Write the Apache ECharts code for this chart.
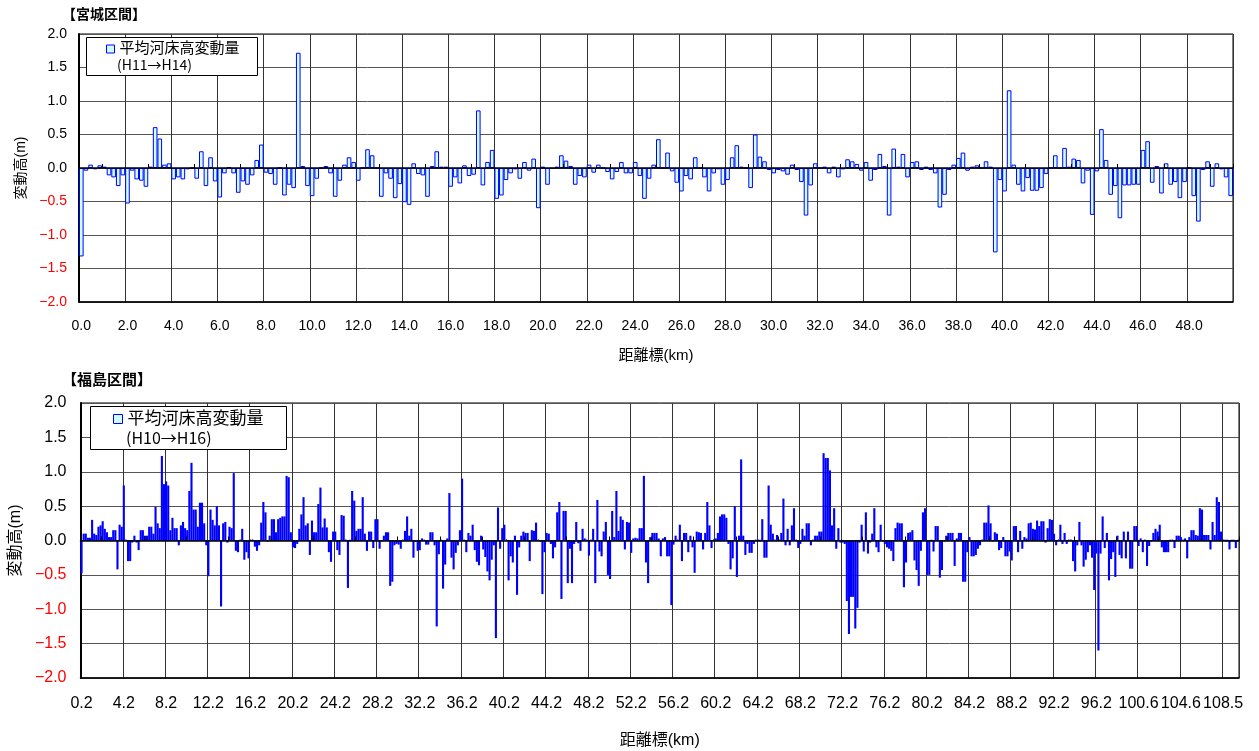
<!DOCTYPE html>
<html><head><meta charset="utf-8">
<script src="https://cdn.jsdelivr.net/npm/echarts/dist/echarts.min.js"></script>
<style>html,body{margin:0;padding:0;background:#fff}#c{width:1259px;height:751px}</style>
</head><body><div id="c"></div>
<script>
// ---------- data ----------
const seriesName = '平均河床高変動量';
const miyagiTitle = '【宮城区間】';
const fukushimaTitle = '【福島区間】';
const miyagiPeriod = '(H11→H14)';
const fukushimaPeriod = '(H10→H16)';
const yName = '変動高(m)';
const xName = '距離標(km)';

const miyagiTickLabels = ['0.0','2.0','4.0','6.0','8.0','10.0','12.0','14.0','16.0','18.0','20.0','22.0','24.0','26.0','28.0','30.0','32.0','34.0','36.0','38.0','40.0','42.0','44.0','46.0','48.0'];
const miyagiValues = [
-1.32,-0.04,0.05,-0.02,0.04,0.02,-0.11,-0.14,-0.27,-0.11,
-0.53,-0.04,-0.17,-0.19,-0.28,0.02,0.61,0.44,0.05,0.07,
-0.17,-0.14,-0.17,-0.02,0,-0.16,0.25,-0.27,0.16,-0.2,
-0.44,-0.08,0.01,-0.08,-0.37,-0.2,-0.25,-0.11,0.12,0.35,
-0.07,-0.09,-0.25,0,-0.41,-0.25,-0.3,1.72,0.03,-0.27,
-0.42,-0.16,0,0.03,-0.08,-0.43,-0.19,0.05,0.16,0.09,
-0.19,0,0.28,0.19,0,-0.43,-0.08,-0.16,-0.45,-0.24,
-0.51,-0.55,0.07,-0.09,-0.11,-0.43,0.03,0.25,0.02,0.02,
-0.28,-0.14,-0.23,0.04,-0.12,-0.1,0.86,-0.26,0.09,0.27,
-0.46,-0.41,-0.18,-0.08,-0.02,-0.16,0.09,-0.04,0.14,-0.6,
0.02,-0.25,-0.01,0.02,0.19,0.11,0.03,-0.25,-0.12,-0.14,
0.05,-0.07,0.05,0,-0.06,-0.17,-0.06,0.09,-0.08,-0.08,
0.09,-0.12,-0.46,-0.16,0.05,0.43,0,0.23,-0.05,-0.22,
-0.35,-0.12,-0.17,0.16,0,-0.14,-0.35,-0.08,-0.02,-0.25,
-0.18,0.16,0.34,0.02,0,-0.3,0.5,0.17,0.1,-0.03,
-0.08,-0.03,-0.05,-0.1,0.05,-0.03,-0.21,-0.71,-0.26,0.07,
0,0.02,-0.08,0.02,-0.14,-0.02,0.13,0.1,0.06,-0.04,
0.09,-0.19,-0.03,0.21,0.03,-0.71,0.29,0.02,0.21,-0.14,
0.09,0.1,-0.03,0.02,-0.03,-0.08,-0.59,-0.4,-0.03,0.05,
0.15,0.23,-0.04,0.02,0.04,0,0.1,0.02,-1.26,-0.18,
-0.35,1.16,0.05,-0.25,-0.35,-0.15,-0.34,-0.34,-0.3,-0.09,
0,0.19,0,0.3,0.02,0.14,0.12,-0.23,-0.04,-0.7,
-0.05,0.58,0.12,-0.4,-0.27,-0.75,-0.26,-0.26,-0.25,-0.25,
0.27,0.4,-0.22,0.03,-0.38,0.07,-0.25,-0.21,-0.45,-0.21,
0,-0.42,-0.8,-0.03,0.1,-0.28,0.07,-0.02,-0.14,-0.42
];

const fukushimaTickLabels = ['0.2','4.2','8.2','12.2','16.2','20.2','24.2','28.2','32.2','36.2','40.2','44.2','48.2','52.2','56.2','60.2','64.2','68.2','72.2','76.2','80.2','84.2','88.2','92.2','96.2','100.6','104.6','108.5'];
const fukushimaValues = [
-0.48,0.1,0.1,0.04,0.04,0.3,0.1,0.08,0.2,0.22,
0.28,0.17,0.12,0.05,0.05,0.15,0.15,-0.42,0.23,0.2,
0.8,0.02,-0.3,-0.3,-0.03,0.07,-0.03,-0.14,0.15,0.15,
0.07,0.07,0.2,0.2,0.1,0.49,0.25,0.18,1.23,0.82,
0.86,0.8,0.15,0.33,0.18,0.18,-0.07,0.22,0.27,0.18,
0.15,0.72,1.13,0.45,0.45,0.2,0.55,0.55,0.25,-0.07,
-0.52,0.45,0.3,0.22,0.5,0.22,-0.96,0.25,0.27,-0.03,
0.2,0.18,0.98,-0.15,-0.17,0.02,0.17,-0.28,-0.17,-0.26,
0.01,0.02,-0.09,-0.15,-0.07,0.26,0.56,0.41,-0.02,0.07,
0.31,0.31,0.12,0.31,0.33,0.35,0.35,0.94,0.92,0.12,
-0.1,-0.11,-0.05,0.17,0.38,0.63,0.22,0.25,-0.21,0.29,
0.12,0.12,0.53,0.77,0.19,0.32,0.19,-0.17,-0.31,0.13,
0.13,-0.14,-0.21,0.37,0.36,0.01,-0.69,0.0,0.72,0.58,
0.14,0.17,0.17,0.63,0.1,-0.15,0.13,0.13,-0.11,0.31,
0.31,-0.12,-0.02,0.07,0.12,0.12,-0.66,-0.6,-0.07,-0.05,
-0.06,-0.12,0.02,0.14,0.35,0.07,0.17,-0.25,-0.02,-0.15,
-0.14,0.03,0.02,-0.06,-0.06,0.12,0.12,-0.07,-1.25,-0.2,
0.02,-0.7,-0.35,0.03,0.69,-0.25,-0.42,-0.18,-0.07,0.15,
0.9,0.01,-0.17,0.11,0.07,0.23,-0.14,-0.31,-0.36,0.07,
-0.13,-0.24,-0.45,-0.58,-0.28,-0.07,-1.42,0.48,-0.12,0.18,
0.23,0.02,-0.58,-0.23,-0.32,0.07,-0.79,-0.1,0.07,0.13,
0.11,0.11,-0.3,0.15,0.14,0.26,0.02,-0.02,-0.78,-0.17,
0.11,0.1,-0.05,-0.26,-0.1,0.41,0.56,-0.85,0.43,0.43,
-0.62,-0.12,-0.62,-0.05,0.27,-0.04,-0.15,0.17,0.03,0.01,
-0.22,0.01,0.17,-0.62,0.59,-0.16,-0.23,0.13,0.27,-0.5,
-0.56,0.43,0.05,0.72,0.14,0.35,0.3,-0.13,0.27,0.26,
-0.18,0.03,0.04,0.03,0.18,0.18,0.94,-0.32,-0.62,0.05,
0.11,0.11,0.11,0.03,-0.23,0.03,0.05,-0.23,-0.23,-0.94,
-0.06,0.07,0.01,0.23,-0.3,0.11,0.11,-0.17,0.07,-0.1,
-0.47,0.13,0.12,0.11,-0.13,0.11,0.56,0.22,-0.11,0.02,
0.03,0.11,0.35,0.38,0.38,0.33,-0.05,-0.42,-0.26,0.5,
-0.53,0.07,1.18,0.07,-0.21,-0.05,-0.18,-0.18,-0.05,0.01,
0.01,0.0,0.31,-0.25,-0.25,0.8,0.23,0.1,0.02,0.08,
0.01,0.11,0.61,-0.07,0.17,-0.07,0.22,0.47,0.02,-0.11,
-0.05,0.17,0.07,0.25,0.25,-0.07,0.01,0.07,0.07,0.13,
0.13,1.27,1.2,1.2,1.02,0.22,0.47,-0.12,0.18,-0.03,
-0.03,-0.05,-0.88,-1.36,-0.82,-0.82,-1.28,-0.98,-0.03,0.23,
-0.16,0.41,-0.19,-0.03,0.1,0.47,-0.1,-0.17,0.23,-0.02,
-0.05,-0.1,-0.12,-0.15,-0.3,0.18,0.26,0.25,0.25,-0.68,
-0.32,0.11,0.12,0.15,-0.29,-0.43,-0.66,-0.15,0.41,0.47,
-0.5,-0.5,0.0,-0.16,0.21,0.21,-0.54,-0.43,-0.02,0.07,
0.11,0.11,0.11,-0.37,0.03,0.11,0.11,-0.6,-0.6,-0.17,
0.05,-0.23,-0.23,-0.21,-0.12,-0.07,0.02,0.26,0.26,0.51,
0.25,-0.01,0.12,0.1,-0.14,-0.11,0.05,-0.23,-0.23,-0.16,
-0.29,0.21,0.21,-0.17,0.14,-0.12,0.05,0.03,0.25,0.26,
0.17,0.16,0.29,0.21,0.28,0.28,-0.03,0.18,0.31,0.3,
0.1,-0.07,0.02,0.23,-0.05,0.11,-0.05,0.01,0.01,-0.3,
-0.45,-0.07,0.27,-0.07,-0.38,-0.28,-0.17,-0.07,-0.25,-0.72,
-0.19,-1.6,-0.19,0.35,-0.11,0.11,-0.58,-0.27,-0.17,-0.53,
0.07,-0.21,-0.26,0.13,-0.26,0.13,-0.41,-0.41,0.21,0.21,
-0.08,0.03,-0.17,0.01,-0.37,-0.08,-0.02,0.11,0.17,0.13,
0.23,-0.1,-0.17,-0.17,-0.17,0.0,0.01,-0.11,0.07,0.07,
0.05,0.02,0.03,-0.26,0.05,0.15,0.15,0.08,0.07,0.47,
0.45,0.08,0.08,0.08,-0.13,0.27,0.08,0.63,0.56,0.13,
0.01,0.0,0.0,-0.13,0.0,0.0,-0.11,0.0
];

// ---------- chart ----------
const FONT = "'Liberation Sans','Noto Sans CJK JP',sans-serif";
const CJK = "'Noto Sans CJK JP',sans-serif";
const miyagiCats = miyagiValues.map((_, i) => String(i));
const fukushimaCats = fukushimaValues.map((_, i) => String(i));
const yFmt = v => (v < 0 ? '−' : '') + Math.abs(v).toFixed(1);
const yColor = v => (parseFloat(v) < 0 ? '#ff0000' : '#000000');
const barStyleTop = { color: '#ccffff', borderColor: '#0000ff', borderWidth: 1 };
const barStyleBottom = { color: '#ccffff', borderColor: '#0000ff', borderWidth: 1.4 };

function labelAxis(grid, cats, step, ticks, fs, margin, gap, nfs) {
  return {
    gridIndex: grid, type: 'category', data: cats, boundaryGap: true, position: 'bottom',
    axisLine: { onZero: false, lineStyle: { color: '#000', width: 1.5 } },
    axisTick: { show: false },
    axisLabel: { interval: step - 1, margin: margin, fontSize: fs, color: '#000', fontFamily: FONT,
      formatter: (v, i) => (i % step === 0 ? ticks[i / step] : '') },
    splitLine: { show: true, interval: step - 1, lineStyle: { color: '#333', width: 1 } },
    name: xName, nameLocation: 'middle', nameGap: gap,
    nameTextStyle: { fontSize: nfs, color: '#000', fontFamily: FONT }
  };
}
function zeroAxis(grid, cats, step) {
  return {
    gridIndex: grid, type: 'category', data: cats, boundaryGap: true, position: 'bottom', z: 5,
    axisLine: { show: true, onZero: true, lineStyle: { color: '#000', width: 1.5 } },
    axisTick: { show: true, inside: true, length: 4, interval: i => i % step === step / 2, lineStyle: { color: '#000' } },
    axisLabel: { show: false }, splitLine: { show: false }
  };
}
function valueAxis(grid, fs, margin, gap, nfs) {
  return {
    gridIndex: grid, type: 'value', min: -2, max: 2, interval: 0.5,
    axisLine: { show: true, lineStyle: { color: '#000', width: 2 } },
    axisTick: { show: false },
    axisLabel: { formatter: yFmt, color: yColor, margin: margin, fontSize: fs, fontFamily: FONT },
    splitLine: { show: true, lineStyle: { color: '#555', width: 1 } },
    name: yName, nameLocation: 'middle', nameGap: gap, nameRotate: 90,
    nameTextStyle: { fontSize: nfs, color: '#000', fontFamily: FONT }
  };
}

const option = {
  animation: false,
  backgroundColor: '#fff',
  title: [
    { text: miyagiTitle, left: 62, top: 8, padding: 0, textStyle: { fontSize: 14, fontWeight: 'bold', color: '#000', fontFamily: FONT } },
    { text: fukushimaTitle, left: 62, top: 373, padding: 0, textStyle: { fontSize: 15, fontWeight: 'bold', color: '#000', fontFamily: FONT } }
  ],
  grid: [
    { left: 79, top: 34, width: 1154, height: 268, show: true, borderColor: '#000', borderWidth: 1 },
    { left: 80, top: 403, width: 1159, height: 275, show: true, borderColor: '#000', borderWidth: 1 }
  ],
  xAxis: [
    labelAxis(0, miyagiCats, 10, miyagiTickLabels, 14, 17, 46, 15),
    zeroAxis(0, miyagiCats, 10),
    labelAxis(1, fukushimaCats, 20, fukushimaTickLabels, 16, 18, 55, 16),
    zeroAxis(1, fukushimaCats, 20)
  ],
  yAxis: [
    valueAxis(0, 14, 12, 49, 14),
    valueAxis(1, 16, 14, 48, 16)
  ],
  legend: [
    { left: 106, top: 40, padding: 0, icon: 'rect', itemWidth: 8, itemHeight: 8, selectedMode: false, z: 6,
      data: [seriesName], itemStyle: barStyleTop,
      textStyle: { fontSize: 15, lineHeight: 18, color: '#000', fontFamily: FONT } },
    { left: 113, top: 409, padding: 0, icon: 'rect', itemWidth: 9, itemHeight: 9, selectedMode: false, z: 6,
      data: [seriesName], itemStyle: barStyleTop,
      textStyle: { fontSize: 17, lineHeight: 20, color: '#000', fontFamily: FONT } }
  ],
  graphic: [
    { type: 'rect', z: 4, shape: { x: 86.5, y: 37.5, width: 171, height: 38 }, style: { fill: '#fff', stroke: '#000', lineWidth: 1 } },
    { type: 'text', z: 7, left: 117, top: 58, style: { text: miyagiPeriod, fontSize: 14, fill: '#000', fontFamily: CJK } },
    { type: 'rect', z: 4, shape: { x: 90.5, y: 406.5, width: 196, height: 43 }, style: { fill: '#fff', stroke: '#000', lineWidth: 1 } },
    { type: 'text', z: 7, left: 126, top: 430, style: { text: fukushimaPeriod, fontSize: 16, fill: '#000', fontFamily: CJK } }
  ],
  series: [
    { type: 'bar', name: seriesName, xAxisIndex: 0, yAxisIndex: 0, data: miyagiValues, barCategoryGap: '0%', itemStyle: barStyleTop },
    { type: 'bar', name: seriesName, xAxisIndex: 2, yAxisIndex: 1, data: fukushimaValues, barCategoryGap: '0%', itemStyle: barStyleBottom }
  ]
};
const chart = echarts.init(document.getElementById('c'), null, { renderer: 'canvas' });
chart.setOption(option);
</script>
</body></html>
